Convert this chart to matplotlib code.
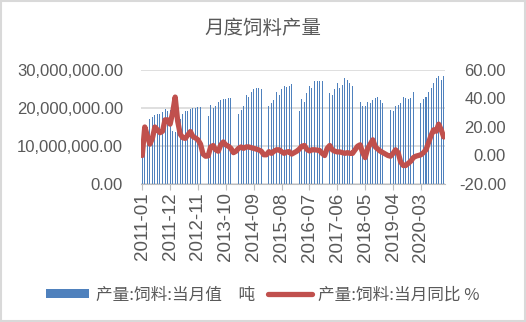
import numpy as np
import matplotlib.pyplot as plt
from matplotlib.patches import Rectangle

plt.rcParams['font.family'] = ['Noto Sans CJK SC', 'DejaVu Sans']

nan = np.nan
# 饲料产量 当月值 (百万吨), 1-2月无单月数据
feed_2011 = [12.0, 13.5, 15.0, 17.2, 17.6, 18.1, 18.3, 18.5, 19.0, 19.7, 19.2, 19.5]
feed_2012 = [14.0, 13.6, 15.0, 17.2, 18.5, 19.1, 19.3, 19.8, 20.0, 20.1, 20.2, 20.2]
feed_2013 = [nan, nan, 17.8, 20.9, 20.0, 20.4, 21.7, 22.2, 22.4, 22.4, 22.6, 22.6]
feed_2014 = [nan, nan, 18.5, 19.5, 20.4, 23.5, 23.0, 24.3, 25.0, 25.3, 25.2, 25.0]
feed_2015 = [nan, nan, 20.5, 21.3, 22.2, 24.1, 23.5, 25.0, 25.8, 25.5, 25.8, 26.3]
feed_2016 = [nan, nan, 19.3, 22.3, 21.7, 23.9, 25.8, 25.2, 27.0, 27.1, 27.2, 27.0]
feed_2017 = [nan, nan, 24.0, 23.5, 25.0, 26.5, 25.2, 26.1, 27.8, 27.4, 26.5, 25.7]
feed_2018 = [nan, nan, 21.7, 20.4, 20.4, 21.6, 21.3, 22.2, 22.6, 23.0, 22.2, 21.3]
feed_2019 = [nan, nan, 19.6, 19.1, 20.4, 20.9, 21.3, 23.0, 22.6, 22.3, 22.6, 24.3]
feed_2020 = [nan, nan, 21.3, 22.3, 23.0, 24.1, 25.2, 26.5, 27.8, 28.4, 27.4, 28.3]

# 当月同比 %
yoy = [0.0, 20.0, 14.0, 8.0, 12.0, 20.0, 18.0, 16.0, 17.0, 25.0, 25.0, 22.0,
       30.0, 41.0, 24.0, 15.0, 12.5, 12.0, 14.4, 16.8, 13.3, 12.3, 11.0, 8.0,
       1.0, -0.5, -0.3, 6.0, 7.0, 4.0, 3.0, 7.4, 9.5, 7.4, 6.5, 5.0,
       2.0, 3.0, 5.0, 6.0, 5.0, 6.0, 6.0, 5.5, 5.0, 4.5, 3.9, 3.0,
       0.5, 0.5, 2.7, 1.5, 3.0, 4.0, 4.0, 2.7, 1.5, 2.5, 2.7, 1.0,
       2.0, 3.0, 4.5, 6.5, 7.0, 4.3, 3.2, 4.0, 4.0, 3.8, 3.5, 1.5,
       0.0, 5.0, 7.0, 4.0, 3.0, 2.5, 2.5, 2.0, 1.5, 2.0, 1.5, 1.5,
       4.0, 6.5, 7.5, 2.0, -1.5, 5.0, 8.0, 11.0, 6.0, 4.5, 3.0, 2.0,
       1.0, 0.0, -0.5, 1.5, 4.0, 2.0, -4.5, -7.0, -7.0, -5.5, -4.0, -1.5,
       -0.5, 0.0, 0.5, 2.0, 4.0, 9.0, 14.0, 18.0, 17.0, 22.0, 18.0, 13.0]

feed = np.array(feed_2011 + feed_2012 + feed_2013 + feed_2014 + feed_2015
                + feed_2016 + feed_2017 + feed_2018 + feed_2019 + feed_2020) * 1e6
months = [f'{y}-{m:02d}' for y in range(2011, 2021) for m in range(1, 13)]
x = np.arange(len(months))

gray = '#595959'
num_font = 'Liberation Sans'

fig = plt.figure(figsize=(5.26, 3.22), dpi=100)
fig.patches.append(Rectangle((0.001, 0.002), 0.997, 0.995, transform=fig.transFigure,
                             fill=False, edgecolor='#D9D9D9', linewidth=1.5))
ax = fig.add_axes([0.268, 0.4286, 0.578, 0.354])
ax2 = ax.twinx()

ax.bar(x, feed, width=0.4, color='#4F81BD', label='产量:饲料:当月值\u3000吨', zorder=2)
ax2.plot(x, yoy, color='#C0504D', linewidth=3.8, solid_capstyle='round',
         solid_joinstyle='round', label='产量:饲料:当月同比 %')

ax.set_xlim(-0.5, len(x) - 0.5)
ax.set_ylim(0, 30e6)
ax.set_yticks([0, 10e6, 20e6, 30e6])
ax.set_yticklabels([f'{v:,.2f}' for v in [0, 10e6, 20e6, 30e6]],
                   fontfamily=num_font, fontsize=12, color=gray)
ax.tick_params(axis='y', length=0, pad=13)
ax.grid(axis='y', color='#D9D9D9', linewidth=1.2, zorder=0)
ax.set_axisbelow(True)

ticks = x[::11]
ax.set_xticks(ticks)
ax.set_xticklabels([months[i] for i in ticks], rotation=90,
                   fontfamily=num_font, fontsize=13.5, color=gray)
ax.tick_params(axis='x', length=4, color='#BFBFBF', pad=2)

ax2.set_ylim(-20, 60)
ax2.set_yticks([-20, 0, 20, 40, 60])
ax2.set_yticklabels([f'{v:.2f}' for v in [-20, 0, 20, 40, 60]],
                    fontfamily=num_font, fontsize=12, color=gray)
ax2.tick_params(axis='y', length=0, pad=44)
for lbl in ax2.get_yticklabels():
    lbl.set_horizontalalignment('right')

for s in ['top', 'left', 'right']:
    ax.spines[s].set_visible(False)
    ax2.spines[s].set_visible(False)
ax.spines['bottom'].set_color('#BFBFBF')
ax2.spines['bottom'].set_visible(False)

fig.text(0.5, 0.91, '月度饲料产量', ha='center', va='center', fontsize=14, color=gray)

h1, l1 = ax.get_legend_handles_labels()
h2, l2 = ax2.get_legend_handles_labels()
fig.legend(h1 + h2, l1 + l2, loc='center', bbox_to_anchor=(0.5, 0.084), ncol=2,
           frameon=False, fontsize=12, labelcolor=gray, handlelength=2.6,
           handletextpad=0.4, columnspacing=0.8, handleheight=0.45)

fig.savefig('out.png', dpi=100)
